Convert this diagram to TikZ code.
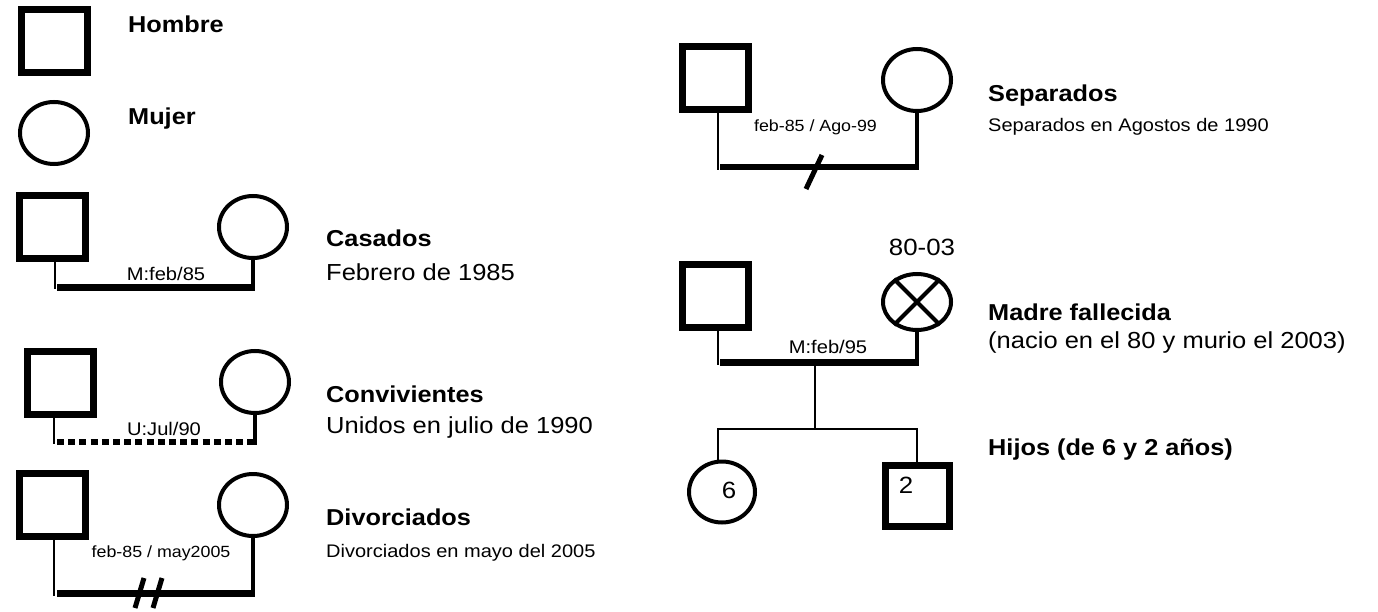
\documentclass[tikz,border=0pt]{standalone}
\usepackage{fontspec}
\setmainfont{Liberation Sans}[FakeStretch=1.1]
\usetikzlibrary{shapes.geometric,calc}
\begin{document}
\begin{tikzpicture}[x=1pt,y=-1pt,
  male/.style={draw, line width=7pt, minimum width=66pt, minimum height=63pt, inner sep=0pt},
  female/.style={draw, ellipse, line width=4pt, minimum width=68pt, minimum height=62pt, inner sep=0pt},
  title/.style={anchor=base west, inner sep=0pt, font=\fontsize{23}{27}\selectfont\bfseries},
  desc/.style={anchor=base west, inner sep=0pt, font=\fontsize{23.2}{27}\selectfont},
  small/.style={anchor=base west, inner sep=0pt, font=\fontsize{18.2}{22}\selectfont},
  elab/.style={anchor=base, inner sep=0pt, font=\fontsize{18.3}{22}\selectfont},
  dlab/.style={anchor=base, inner sep=0pt, font=\fontsize{16.2}{20}\selectfont},
  nlab/.style={anchor=base, inner sep=0pt, font=\fontsize{23.5}{27}\selectfont},
  stem/.style={line width=2pt},
  wstem/.style={line width=3.5pt},
  bar/.style={line width=7pt},
  cut/.style={line width=5pt},
]
\useasboundingbox[fill=white] (0,0) rectangle (1378,612);

% ---- legend: man / woman
\node[male] (h1) at (54,41.5) {};
\node[title] (t1) at (128,33) {Hombre};
\node[female] (w1) at (54,133) {};
\node[title] (t2) at (128,125) {Mujer};

% ---- Casados
\node[male] (h2) at (52,227) {};
\node[female] (w2) at (253,227) {};
\coordinate (b2) at (57,287);
\path ($(h2.south)+(3,0)$) coordinate (h2s);
\draw[stem] (h2s) -- ($(h2s |- b2)+(0,2)$);
\draw[bar] (b2) -- (w2.south |- b2);
\draw[wstem] (w2.south) -- ($(w2.south |- b2)+(0,3.5)$);
\node[elab] (l2) at (166,280) {M:feb/85};
\node[title] (t3) at (326,247) {Casados};
\node[desc] (d3) at (326,280) {Febrero de 1985};

% ---- Convivientes
\node[male] (h3) at (60,383) {};
\node[female] (w3) at (255,382) {};
\coordinate (b3) at (57,442);
\path ($(h3.south)+(-6,0)$) coordinate (h3s);
\draw[stem] (h3s) -- ($(h3s |- b3)+(0,2)$);
\draw[bar, line width=6.5pt, dash pattern=on 7pt off 4.2pt] (b3) -- (w3.south |- b3);
\draw[wstem] (w3.south) -- ($(w3.south |- b3)+(0,3.2)$);
\node[elab] (l3) at (164,435) {U:Jul/90};
\node[title] (t4) at (326,402) {Convivientes};
\node[desc] (d4) at (326,433) {Unidos en julio de 1990};

% ---- Divorciados
\node[male] (h4) at (52,505) {};
\node[female] (w4) at (253,505) {};
\coordinate (b4) at (57,593);
\path ($(h4.south)+(2,0)$) coordinate (h4s);
\draw[stem] (h4s) -- ($(h4s |- b4)+(0,3)$);
\draw[bar] (b4) -- (w4.south |- b4);
\draw[wstem] (w4.south) -- ($(w4.south |- b4)+(0,3.5)$);
\draw[cut] ($(b4)+(87,-15)$) -- ($(b4)+(78,15)$);
\draw[cut] ($(b4)+(105,-15)$) -- ($(b4)+(96,15)$);
\node[dlab] (l4) at (161,557) {feb-85 / may2005};
\node[title] (t5) at (326,525) {Divorciados};
\node[small] (d5) at (326,557) {Divorciados en mayo del 2005};

% ---- Separados
\node[male] (h5) at (715,78.5) {};
\node[female] (w5) at (917,80) {};
\coordinate (b5) at (720,167);
\path ($(h5.south)+(3,0)$) coordinate (h5s);
\draw[stem] (h5s) -- ($(h5s |- b5)+(0,3)$);
\draw[bar, line width=6pt] (b5) -- (w5.south |- b5);
\draw[wstem] (w5.south) -- ($(w5.south |- b5)+(0,3)$);
\draw[cut] ($(b5)+(102,-12)$) -- ($(b5)+(86,22)$);
\node[dlab] (l5) at (815.5,132) {feb-85 / Ago-99};
\node[title] (t6) at (988,102) {Separados};
\node[small] (d6) at (988,132) {Separados en Agostos de 1990};

% ---- Madre fallecida + hijos
\node[male] (h6) at (715,296) {};
\node[female, minimum height=56pt] (w6) at (917,302) {};
\draw[line width=4pt] (w6.45) -- (w6.225);
\draw[line width=4pt] (w6.135) -- (w6.315);
\node[nlab] (y6) at (922,255) {80-03};
\coordinate (b6) at (720,362);
\path ($(h6.south)+(3,0)$) coordinate (h6s);
\draw[stem] (h6s) -- ($(h6s |- b6)+(0,3)$);
\draw[bar] (b6) -- (w6.south |- b6);
\draw[wstem] (w6.south) -- ($(w6.south |- b6)+(0,3.5)$);
\node[elab] (l6) at (828,353) {M:feb/95};
\node[title] (t7) at (988,320) {Madre fallecida};
\node[desc] (d7) at (988,348) {(nacio en el 80 y murio el 2003)};

\node[female, minimum width=66pt, minimum height=61pt] (c1) at (722,492) {};
\node[male, minimum width=64pt, minimum height=61pt] (c2) at (917,496) {};
\node[nlab] (n1) at (729,498) {6};
\node[nlab] (n2) at (906,493) {2};
\coordinate (m6) at (815,365);
\coordinate (sib) at (815,429);
\draw[stem] (m6) -- (sib);
\draw[stem] ($(c1.north)+(-4,0)$) |- (c2.north |- sib) -- (c2.north);
\node[title] (t8) at (988,455) {Hijos (de 6 y 2 años)};
\end{tikzpicture}
\end{document}
